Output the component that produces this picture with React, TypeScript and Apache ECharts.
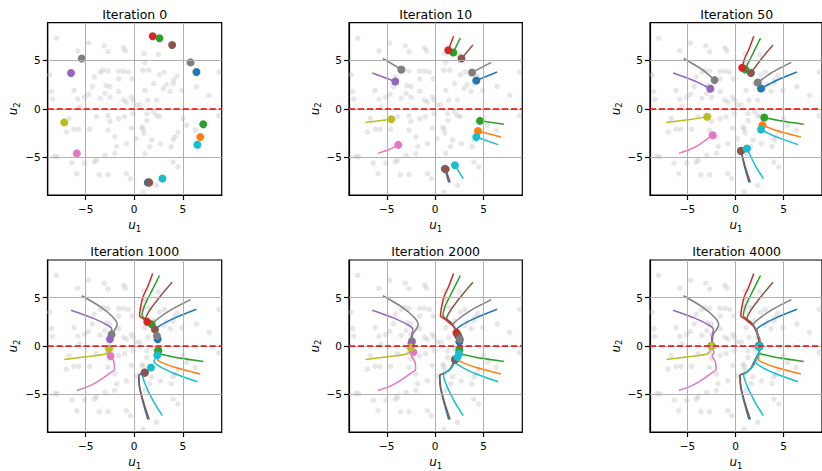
import React, { useEffect, useRef } from "react";
import * as echarts from "echarts";

const iterations = [0, 10, 50, 1000, 2000, 4000];
const titles = iterations.map((i) => `Iteration ${i}`);
const tickValues = [-5, 0, 5];
const xRange = [-8.9, 9.0];
const yRange = [-8.9, 8.9];

// background samples [u1, u2]
const backgroundPoints: number[][] = [
  [-8.0, 7.3], [-4.7, 6.8], [-3.1, 6.5], [-2.7, 5.9], [-5.8, 6.0], [-1.1, 6.3], [-0.9, 6.0], [1.0, 5.7],
  [2.5, 5.6], [1.1, 4.8], [1.5, 4.0], [3.1, 3.8], [4.4, 3.4], [4.1, 3.0], [4.0, 2.6], [3.3, 2.5],
  [3.0, 2.1], [3.7, 1.8], [4.9, 1.9], [6.4, 2.3], [7.7, 1.4], [8.7, 3.8], [8.7, -0.7], [-8.7, 3.5],
  [-8.5, 1.8], [-8.4, 1.0], [-6.2, 1.9], [-5.8, 1.0], [-5.1, 1.2], [-4.7, 1.5], [-4.3, 2.3], [-4.1, 3.3],
  [-3.5, 3.8], [-3.2, 4.0], [-2.7, 3.9], [-1.6, 3.9], [-1.1, 3.9], [-0.6, 3.8], [-1.6, 3.1], [-0.2, 3.1],
  [-2.9, 2.4], [-2.5, 2.3], [-3.0, 1.6], [-3.5, 1.1], [-2.5, 1.2], [-1.6, 1.8], [-0.8, 0.7], [-1.1, 0.9],
  [-0.3, 1.2], [-0.1, 0.9], [0.2, 0.4], [0.6, 0.4], [2.0, -0.3], [2.3, -0.7], [2.6, -0.8], [1.3, -1.2],
  [0.8, -1.9], [0.9, -2.1], [1.0, -2.5], [0.2, -3.1], [-0.8, -3.6], [-1.8, -3.9], [-2.0, -4.6], [-3.0, -4.8],
  [-3.9, -5.3], [-4.1, -5.5], [-5.1, -5.6], [-5.9, -6.7], [-6.4, -5.6], [-8.2, -4.9], [-7.9, -4.95], [-7.0, -2.4],
  [-6.2, -2.1], [-5.7, -2.1], [-4.6, -2.1], [-2.7, -0.7], [-2.5, -1.3], [-1.6, -1.0], [-1.0, -0.8], [-0.1, -0.5],
  [1.3, -0.5], [2.7, -3.6], [4.0, -3.2], [4.2, -2.9], [4.5, -2.4], [5.4, -1.7], [5.0, -1.0], [6.3, -2.2],
  [3.8, -3.9], [4.5, -6.0], [4.0, -5.5], [-0.8, -6.7], [-0.4, -7.2], [-2.7, -6.8], [-3.6, -6.8], [0.9, -8.6],
  [2.3, -7.9], [1.8, -3.2], [-0.3, -2.0], [-2.0, -2.9], [-2.7, -2.2], [-3.9, -0.8], [1.1, -4.6], [1.6, -3.9],
  [2.6, 3.5], [-5.6, 0.2], [-6.7, -1.0], [0.9, 4.0], [1.1, 1.9], [2.3, 0.9], [2.0, 2.6], [1.4, 0.9],
];

// particle trajectories: [u1, u2, iteration]
const pathBlueA = [[6.4, 3.8, 0], [4.25, 2.93, 10], [2.65, 2.1, 50], [2.2, 1.65, 400], [2.41, 0.69, 1000], [2.5, 0.45, 2000], [2.47, 0.02, 4000]];
const pathOrange = [[6.8, -2.9, 0], [4.42, -2.28, 10], [2.79, -1.69, 50], [2.4, -1.4, 400], [2.45, -0.6, 1000], [2.5, -0.55, 2000], [2.47, -0.03, 4000]];
const pathGreenA = [[2.6, 7.3, 0], [1.87, 5.83, 10], [1.35, 4.8, 30], [1.02, 4.07, 50], [0.8, 3.15, 400], [1.2, 2.75, 700], [1.79, 2.24, 1000], [2.1, 1.7, 1500], [2.3, 1.2, 2000], [2.45, 0.6, 3000], [2.47, 0.04, 4000]];
const pathRed = [[1.9, 7.5, 0], [1.35, 6.05, 10], [0.93, 5.15, 30], [0.7, 4.25, 50], [0.55, 3.1, 400], [0.9, 2.85, 700], [1.34, 2.5, 1000], [1.87, 2.05, 1500], [2.2, 1.38, 2000], [2.4, 0.8, 3000], [2.47, 0.05, 4000]];
const pathPurple = [[-6.5, 3.7, 0], [-4.12, 2.83, 10], [-2.62, 2.07, 50], [-2.3, 1.75, 400], [-2.5, 0.69, 1000], [-2.45, 0.25, 2000], [-2.49, 0.01, 4000]];
const pathBrownA = [[3.9, 6.6, 0], [2.72, 5.2, 10], [1.6, 3.7, 50], [1.19, 2.85, 400], [1.6, 2.45, 700], [2.13, 1.72, 1000], [2.3, 1.3, 1500], [2.4, 1.0, 2000], [2.48, 0.5, 3000], [2.47, 0.03, 4000]];
const pathPink = [[-5.9, -4.6, 0], [-4.76, -4.2, 5], [-3.81, -3.72, 10], [-2.38, -2.72, 50], [-2.02, -2.45, 300], [-2.1, -1.6, 600], [-2.43, -1.03, 1000], [-2.25, -0.65, 2000], [-2.49, -0.02, 4000]];
const pathGrayA = [[5.8, 4.8, 0], [3.81, 3.76, 10], [2.31, 2.72, 50], [1.87, 2.23, 300], [2.14, 1.71, 600], [2.34, 1.03, 1000], [2.55, 0.7, 2000], [2.47, 0.02, 4000]];
const pathOlive = [[-7.2, -1.4, 0], [-4.52, -1.07, 10], [-2.96, -0.83, 50], [-2.65, -0.55, 400], [-2.58, -0.27, 1000], [-2.52, -0.15, 2000], [-2.49, -0.01, 4000]];
const pathCyanA = [[6.5, -3.7, 0], [4.25, -2.9, 10], [2.65, -2.14, 50], [2.04, -1.6, 400], [2.37, -0.95, 1000], [2.45, -0.8, 2000], [2.47, -0.04, 4000]];
const pathBlueB = [[1.4, -7.6, 0], [1.0, -6.2, 10], [0.55, -4.35, 50], [0.46, -3.07, 400], [1.05, -2.78, 1000], [1.6, -2.32, 1500], [2.05, -1.42, 2000], [2.45, -0.6, 3000], [2.47, -0.06, 4000]];
const pathGreenB = [[7.1, -1.6, 0], [4.63, -1.24, 10], [2.99, -0.9, 50], [2.55, -0.8, 300], [2.47, -0.44, 1000], [2.5, -0.3, 2000], [2.47, -0.02, 4000]];
const pathGrayB = [[-5.4, 5.2, 0], [-3.5, 4.07, 10], [-2.18, 2.97, 50], [-1.75, 2.2, 400], [-2.05, 1.6, 700], [-2.33, 1.2, 1000], [-2.4, 0.5, 2000], [-2.49, 0.02, 4000]];
const pathBrownB = [[1.55, -7.6, 0], [1.09, -6.24, 10], [0.58, -4.34, 50], [0.48, -3.05, 400], [1.1, -2.74, 1000], [1.6, -2.3, 1500], [2.06, -1.37, 2000], [2.45, -0.6, 3000], [2.47, -0.06, 4000]];
const pathCyanB = [[2.9, -7.2, 0], [2.04, -5.83, 10], [1.19, -4.1, 50], [0.85, -3.0, 400], [1.2, -2.65, 700], [1.72, -2.23, 1000], [2.1, -1.6, 1500], [2.3, -1.15, 2000], [2.48, -0.5, 3000], [2.47, -0.05, 4000]];

const particlePaths = [pathBlueA, pathOrange, pathGreenA, pathRed, pathBrownA, pathGrayA, pathGrayB, pathPurple, pathPink, pathOlive, pathBlueB, pathBrownB, pathGreenB, pathCyanA, pathCyanB];
const particleColors = ["#1f77b4", "#ff7f0e", "#2ca02c", "#d62728", "#8c564b", "#7f7f7f", "#7f7f7f", "#9467bd", "#e377c2", "#bcbd22", "#1f77b4", "#8c564b", "#2ca02c", "#17becf", "#17becf"];

const FONT = "DejaVu Sans";
const colLeft = [47.7, 349, 650];
const colWidth = [174, 173.3, 173.3];
const rowTop = [22.7, 260];
const rowHeight = [172.3, 173.3];

const fmt = (v: number) => (v < 0 ? "\u2212" + Math.abs(v) : String(v));

function buildOption() {
  const grid: any[] = [];
  const xAxis: any[] = [];
  const yAxis: any[] = [];
  const series: any[] = [];
  const graphic: any[] = [];
  const nameRich = {
    i: { fontFamily: FONT, fontStyle: "italic", fontSize: 12, color: "#000" },
    s: { fontFamily: FONT, fontSize: 8.5, color: "#000", verticalAlign: "bottom", padding: [7, 0, 0, 0] },
  };
  iterations.forEach((T, k) => {
    const col = k % 3;
    const row = Math.floor(k / 3);
    grid.push({
      left: colLeft[col], top: rowTop[row], width: colWidth[col], height: rowHeight[row],
      show: true, borderColor: "#000", borderWidth: 1.2, backgroundColor: "transparent",
    });
    const axisCommon = {
      type: "value", gridIndex: k,
      axisLine: { show: true, onZero: false, lineStyle: { color: "#000", width: 1.2 } },
      axisTick: { show: true, customValues: tickValues, length: 5, lineStyle: { color: "#000", width: 1.2 } },
      axisLabel: { customValues: tickValues, formatter: fmt, color: "#000", fontSize: 10.5, fontFamily: FONT },
      splitLine: { show: false },
      nameLocation: "middle",
      nameTextStyle: { rich: nameRich },
    };
    xAxis.push({ ...axisCommon, min: xRange[0], max: xRange[1], name: "{i|u}{s|1}", nameGap: 22,
      axisLabel: { ...axisCommon.axisLabel, margin: 8 } });
    yAxis.push({ ...axisCommon, min: yRange[0], max: yRange[1], name: "{i|u}{s|2}", nameGap: 24,
      axisLabel: { ...axisCommon.axisLabel, margin: 7 } });

    series.push({
      type: "scatter", xAxisIndex: k, yAxisIndex: k, data: backgroundPoints, symbolSize: 5.5, silent: true, z: 1,
      itemStyle: { color: "#bdbdbd", opacity: 0.36 },
      markLine: {
        silent: true, symbol: ["none", "none"], label: { show: false },
        lineStyle: { color: "#b0b0b0", width: 1, type: "solid" },
        data: [...tickValues.map((v) => ({ xAxis: v })), ...tickValues.map((v) => ({ yAxis: v }))],
      },
    });
    const dots: any[] = [];
    particlePaths.forEach((p, j) => {
      const pts = p.filter((q) => q[2] <= T).map((q) => [q[0], q[1]]);
      series.push({
        type: "line", xAxisIndex: k, yAxisIndex: k, data: pts, showSymbol: false, symbol: "none", silent: true, z: 3,
        smooth: 0.25, lineStyle: { color: particleColors[j], width: 1.5 },
      });
      dots.push({ value: pts[pts.length - 1], itemStyle: { color: particleColors[j], opacity: 1 } });
    });
    series.push({ type: "scatter", xAxisIndex: k, yAxisIndex: k, data: dots, symbolSize: 8, silent: true, z: 4, itemStyle: { opacity: 1 } });
    series.push({
      type: "scatter", xAxisIndex: k, yAxisIndex: k, data: [], z: 5, silent: true,
      markLine: {
        silent: true, symbol: ["none", "none"], label: { show: false },
        lineStyle: { color: "#ff0000", width: 1.5, type: [6, 3] },
        data: [{ yAxis: 0 }],
      },
    });
    graphic.push({
      type: "text", x: colLeft[col] + colWidth[col] / 2, y: row === 0 ? 14 : 251.7,
      style: { text: titles[k], fontSize: 12.5, fontFamily: FONT, fill: "#000", align: "center", verticalAlign: "middle", textAlign: "center", textVerticalAlign: "middle" },
    });
  });
  return { animation: false, backgroundColor: "#fff", textStyle: { fontFamily: FONT }, grid, xAxis, yAxis, series, graphic };
}

export default function App() {
  const ref = useRef<HTMLDivElement>(null);
  useEffect(() => {
    if (!ref.current) return;
    const chart = echarts.init(ref.current, undefined, { renderer: "svg" });
    chart.setOption(buildOption() as any);
    return () => chart.dispose();
  }, []);
  return <div ref={ref} style={{ position: "absolute", left: 0, top: 0, width: 822, height: 471 }} />;
}
